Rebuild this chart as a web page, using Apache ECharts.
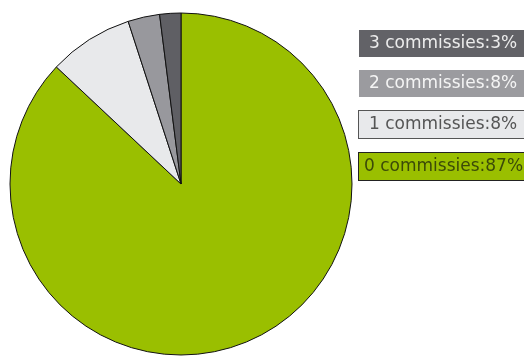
<!DOCTYPE html>
<html>
<head>
<meta charset="utf-8">
<script src="https://cdn.jsdelivr.net/npm/echarts@6/dist/echarts.min.js"></script>
<style>
  html, body { margin: 0; padding: 0; background: #fff; }
  #chart { width: 524px; height: 356px; }
</style>
</head>
<body>
<div id="chart"></div>
<script>
// Number of commissions per member, share of members (%)
const categories = ['0 commissies', '1 commissies', '2 commissies', '3 commissies'];
const shares = [87, 8, 3, 2];
// Percentages printed in the legend boxes
const legendPercents = ['87%', '8%', '8%', '3%'];

const sliceColors = ['#9abf00', '#e8e9eb', '#98989d', '#5f5f64'];
const boxStyles = [
  { backgroundColor: '#9abf00', color: '#3b4a08', borderColor: '#222', borderWidth: 1, padding: [3, 4, 3, 5], width: 156 },
  { backgroundColor: '#e8e9eb', color: '#555555', borderColor: '#555', borderWidth: 1, padding: [3, 4, 3, 10], width: 151 },
  { backgroundColor: '#9b9b9f', color: '#f4f4f4', borderColor: '#9b9b9f', borderWidth: 0, padding: [3, 4, 3, 10], width: 151 },
  { backgroundColor: '#626267', color: '#ececec', borderColor: '#626267', borderWidth: 0, padding: [3, 4, 3, 10], width: 151 }
];

const chart = echarts.init(document.getElementById('chart'), null, { renderer: 'canvas' });

const legendOrder = [3, 2, 1, 0];

chart.setOption({
  animation: false,
  legend: {
    orient: 'vertical',
    left: 354,
    top: 30,
    padding: 0,
    itemWidth: 0,
    itemHeight: 0,
    itemGap: 13,
    icon: 'none',
    selectedMode: false,
    data: legendOrder.map(i => ({
      name: categories[i],
      textStyle: Object.assign({
        fontFamily: 'DejaVu Sans',
        fontSize: 17,
        lineHeight: 21
      }, boxStyles[i])
    })),
    formatter: name => name + ':' + legendPercents[categories.indexOf(name)]
  },
  series: [{
    type: 'pie',
    center: [181, 184],
    radius: 171,
    startAngle: 90,
    clockwise: true,
    label: { show: false },
    labelLine: { show: false },
    emphasis: { disabled: true },
    itemStyle: { borderColor: '#111', borderWidth: 1 },
    data: categories.map((c, i) => ({
      name: c,
      value: shares[i],
      itemStyle: { color: sliceColors[i] }
    }))
  }]
});
</script>
</body>
</html>
